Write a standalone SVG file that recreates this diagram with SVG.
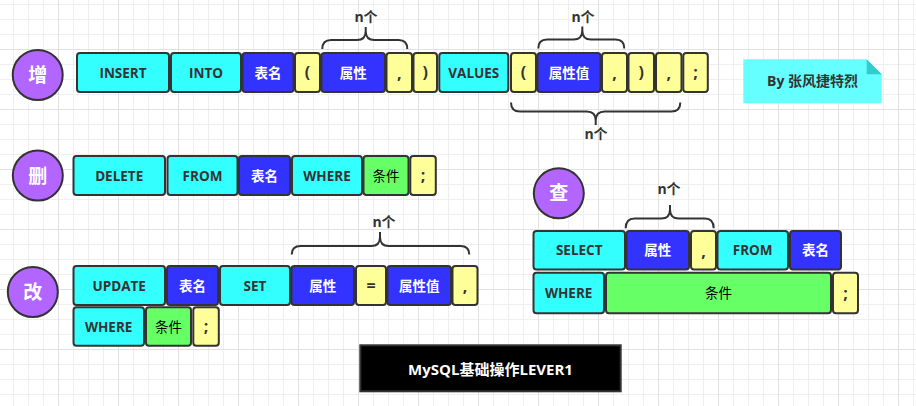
<svg xmlns="http://www.w3.org/2000/svg" width="916" height="406" viewBox="0 0 916 406">
<defs>
<pattern id="grid" x="-2" y="-11" width="60" height="60" patternUnits="userSpaceOnUse">
<rect x="0" y="0" width="60" height="60" fill="#ffffff"/>
<rect x="15" y="0" width="1" height="60" fill="#efefef"/>
<rect x="30" y="0" width="1" height="60" fill="#efefef"/>
<rect x="45" y="0" width="1" height="60" fill="#efefef"/>
<rect x="0" y="15" width="60" height="1" fill="#efefef"/>
<rect x="0" y="30" width="60" height="1" fill="#efefef"/>
<rect x="0" y="45" width="60" height="1" fill="#efefef"/>
<rect x="0" y="0" width="1" height="60" fill="#e2e2e2"/>
<rect x="0" y="0" width="60" height="1" fill="#e2e2e2"/>
</pattern>
</defs>
<style>
text{font-family:"Open Sans","Noto Sans CJK SC",sans-serif;font-weight:bold;font-size:13.5px;text-anchor:middle}
.bx{stroke:#333333;stroke-width:2}
.cy{fill:#33ffff}.bl{fill:#3333ff}.ye{fill:#ffff99}.gr{fill:#66ff66}
.dk{fill:#333333}.wt{fill:#ffffff}.gt{fill:#000000;font-weight:normal}
.pu{font-size:16px}
.circ{fill:#b266ff;stroke:#333333;stroke-width:2}
.ct{fill:#ffffff;font-size:19px}
.br{fill:none;stroke:#333333;stroke-width:2}
.nl{fill:#333333;font-size:14px}
</style>
<rect width="916" height="406" fill="url(#grid)"/>

<g id="braces">
<path class="br" d="M322.3,49 Q322.3,40 331,40 L357,40 Q365.7,40 365.7,31 L365.7,27 M365.7,31 Q365.7,40 374.4,40 L398.6,40 Q407.3,40 407.3,49"/>
<path class="br" d="M538.3,48.5 Q538.3,39.5 547,39.5 L573.6,39.5 Q582.3,39.5 582.3,30.5 L582.3,26.5 M582.3,30.5 Q582.3,39.5 591,39.5 L615.6,39.5 Q624.3,39.5 624.3,48.5"/>
<path class="br" d="M511,102.5 Q511,111.5 520,111.5 L586.7,111.5 Q595.7,111.5 595.7,120.5 L595.7,125 M595.7,120.5 Q595.7,111.5 604.7,111.5 L671.3,111.5 Q680.3,111.5 680.3,102.5"/>
<path class="br" d="M291.7,254.5 Q291.7,246 300.5,246 L371.2,246 Q380,246 380,237 L380,232 M380,237 Q380,246 388.8,246 L460.5,246 Q469.3,246 469.3,254.5"/>
<path class="br" d="M625.7,228.3 Q625.7,218.5 634.5,218.5 L661.2,218.5 Q670,218.5 670,209.5 L670,205 M670,209.5 Q670,218.5 678.8,218.5 L704.9,218.5 Q713.7,218.5 713.7,228.3"/>
<text class="nl" x="366" y="22">n个</text>
<text class="nl" x="583" y="22">n个</text>
<text class="nl" x="596" y="139">n个</text>
<text class="nl" x="384" y="227">n个</text>
<text class="nl" x="669" y="194">n个</text>
</g>

<g id="insert">
<circle class="circ" cx="37.7" cy="75" r="25"/>
<text class="ct" x="37.7" y="82">增</text>
<rect class="bx cy" x="77" y="53" width="92" height="39" rx="3"/><text class="dk" x="123" y="77.5">INSERT</text>
<rect class="bx cy" x="171" y="53" width="70" height="39" rx="3"/><text class="dk" x="206" y="77.5">INTO</text>
<rect class="bx bl" x="242.5" y="53" width="51" height="39" rx="3"/><text class="wt" x="268" y="77.5">表名</text>
<rect class="bx ye" x="295" y="53" width="25" height="39" rx="3"/><text class="dk pu" x="307.5" y="78">(</text>
<rect class="bx bl" x="321.5" y="53" width="63.5" height="39" rx="3"/><text class="wt" x="353.2" y="77.5">属性</text>
<rect class="bx ye" x="386.5" y="53" width="25.5" height="39" rx="3"/><text class="dk pu" x="399.2" y="79">,</text>
<rect class="bx ye" x="413.5" y="53" width="23.5" height="39" rx="3"/><text class="dk pu" x="425.2" y="78">)</text>
<rect class="bx cy" x="439.3" y="53" width="69" height="39" rx="3"/><text class="dk" x="473.8" y="77.5">VALUES</text>
<rect class="bx ye" x="511" y="53" width="25" height="39" rx="3"/><text class="dk pu" x="523.5" y="78">(</text>
<rect class="bx bl" x="537.5" y="53" width="63" height="39" rx="3"/><text class="wt" x="569" y="77.5">属性值</text>
<rect class="bx ye" x="602" y="53" width="25" height="39" rx="3"/><text class="dk pu" x="614.5" y="79">,</text>
<rect class="bx ye" x="628.5" y="53" width="25.5" height="39" rx="3"/><text class="dk pu" x="641.2" y="78">)</text>
<rect class="bx ye" x="656" y="53" width="25.5" height="39" rx="3"/><text class="dk pu" x="668.7" y="79">,</text>
<rect class="bx ye" x="683.3" y="53" width="24.5" height="39" rx="3"/><text class="dk pu" x="695.5" y="78">;</text>
</g>

<g id="delete">
<circle class="circ" cx="37.8" cy="175.5" r="25"/>
<text class="ct" x="37.8" y="182.5">删</text>
<rect class="bx cy" x="73.5" y="156" width="91.5" height="39" rx="3"/><text class="dk" x="119.2" y="180.5">DELETE</text>
<rect class="bx cy" x="167.5" y="156" width="70" height="39" rx="3"/><text class="dk" x="202.5" y="180.5">FROM</text>
<rect class="bx bl" x="239" y="156" width="51" height="39" rx="3"/><text class="wt" x="264.5" y="180.5">表名</text>
<rect class="bx cy" x="292" y="156" width="70" height="39" rx="3"/><text class="dk" x="327" y="180.5">WHERE</text>
<rect class="bx gr" x="363.5" y="156" width="45" height="39" rx="3"/><text class="gt" x="386" y="180.5">条件</text>
<rect class="bx ye" x="410.3" y="156" width="25.5" height="39" rx="3"/><text class="dk pu" x="423" y="181">;</text>
</g>

<g id="update">
<circle class="circ" cx="32.8" cy="292" r="25"/>
<text class="ct" x="32.8" y="299">改</text>
<rect class="bx cy" x="73.5" y="266" width="91.5" height="39" rx="3"/><text class="dk" x="119.2" y="290.5">UPDATE</text>
<rect class="bx bl" x="167" y="266" width="51" height="39" rx="3"/><text class="wt" x="192.5" y="290.5">表名</text>
<rect class="bx cy" x="220" y="266" width="70" height="39" rx="3"/><text class="dk" x="255" y="290.5">SET</text>
<rect class="bx bl" x="291.5" y="266" width="62.5" height="39" rx="3"/><text class="wt" x="322.7" y="290.5">属性</text>
<rect class="bx ye" x="356" y="266" width="30" height="39" rx="3"/><text class="dk pu" x="371" y="291">=</text>
<rect class="bx bl" x="387.5" y="266" width="63.5" height="39" rx="3"/><text class="wt" x="419.2" y="290.5">属性值</text>
<rect class="bx ye" x="452.5" y="266" width="25" height="39" rx="3"/><text class="dk pu" x="465" y="292">,</text>
<rect class="bx cy" x="73.5" y="307.3" width="70.5" height="38.5" rx="3"/><text class="dk" x="108.7" y="331.5">WHERE</text>
<rect class="bx gr" x="146" y="307.3" width="45" height="38.5" rx="3"/><text class="gt" x="168.5" y="331.5">条件</text>
<rect class="bx ye" x="193.3" y="307.3" width="25.5" height="38.5" rx="3"/><text class="dk pu" x="206" y="332">;</text>
</g>

<g id="select">
<circle class="circ" cx="558.8" cy="193.3" r="25"/>
<text class="ct" x="558.8" y="200.3">查</text>
<rect class="bx cy" x="533.5" y="231" width="91.5" height="38.5" rx="3"/><text class="dk" x="579.2" y="255">SELECT</text>
<rect class="bx bl" x="626.5" y="231" width="62.5" height="38.5" rx="3"/><text class="wt" x="657.7" y="255">属性</text>
<rect class="bx ye" x="691" y="231" width="25" height="38.5" rx="3"/><text class="dk pu" x="703.5" y="256.5">,</text>
<rect class="bx cy" x="717.5" y="231" width="70.5" height="38.5" rx="3"/><text class="dk" x="752.7" y="255">FROM</text>
<rect class="bx bl" x="790" y="231" width="51" height="38.5" rx="3"/><text class="wt" x="815.5" y="255">表名</text>
<rect class="bx cy" x="533.5" y="272.7" width="70.5" height="40.5" rx="3"/><text class="dk" x="568.7" y="298">WHERE</text>
<rect class="bx gr" x="606" y="272.7" width="225" height="40.5" rx="3"/><text class="gt" x="718.5" y="298">条件</text>
<rect class="bx ye" x="833" y="272.7" width="25" height="40.5" rx="3"/><text class="dk pu" x="845.5" y="298.5">;</text>
</g>

<g id="author-note">
<path d="M743.3,59.3 L866.7,59.3 L881.7,74.3 L881.7,103.3 L743.3,103.3 Z" fill="#66ffff"/>
<path d="M866.7,59.3 L881.7,74.3 L866.7,74.3 Z" fill="#33cccc"/>
<text class="dk" x="812.5" y="86" style="font-size:14px">By 张风捷特烈</text>
</g>

<g id="title">
<rect x="360.3" y="345.3" width="260.4" height="46" fill="#000000" stroke="#333333" stroke-width="2"/>
<text class="wt" x="490.5" y="374.5" style="font-size:15px">MySQL基础操作LEVER1</text>
</g>
</svg>
